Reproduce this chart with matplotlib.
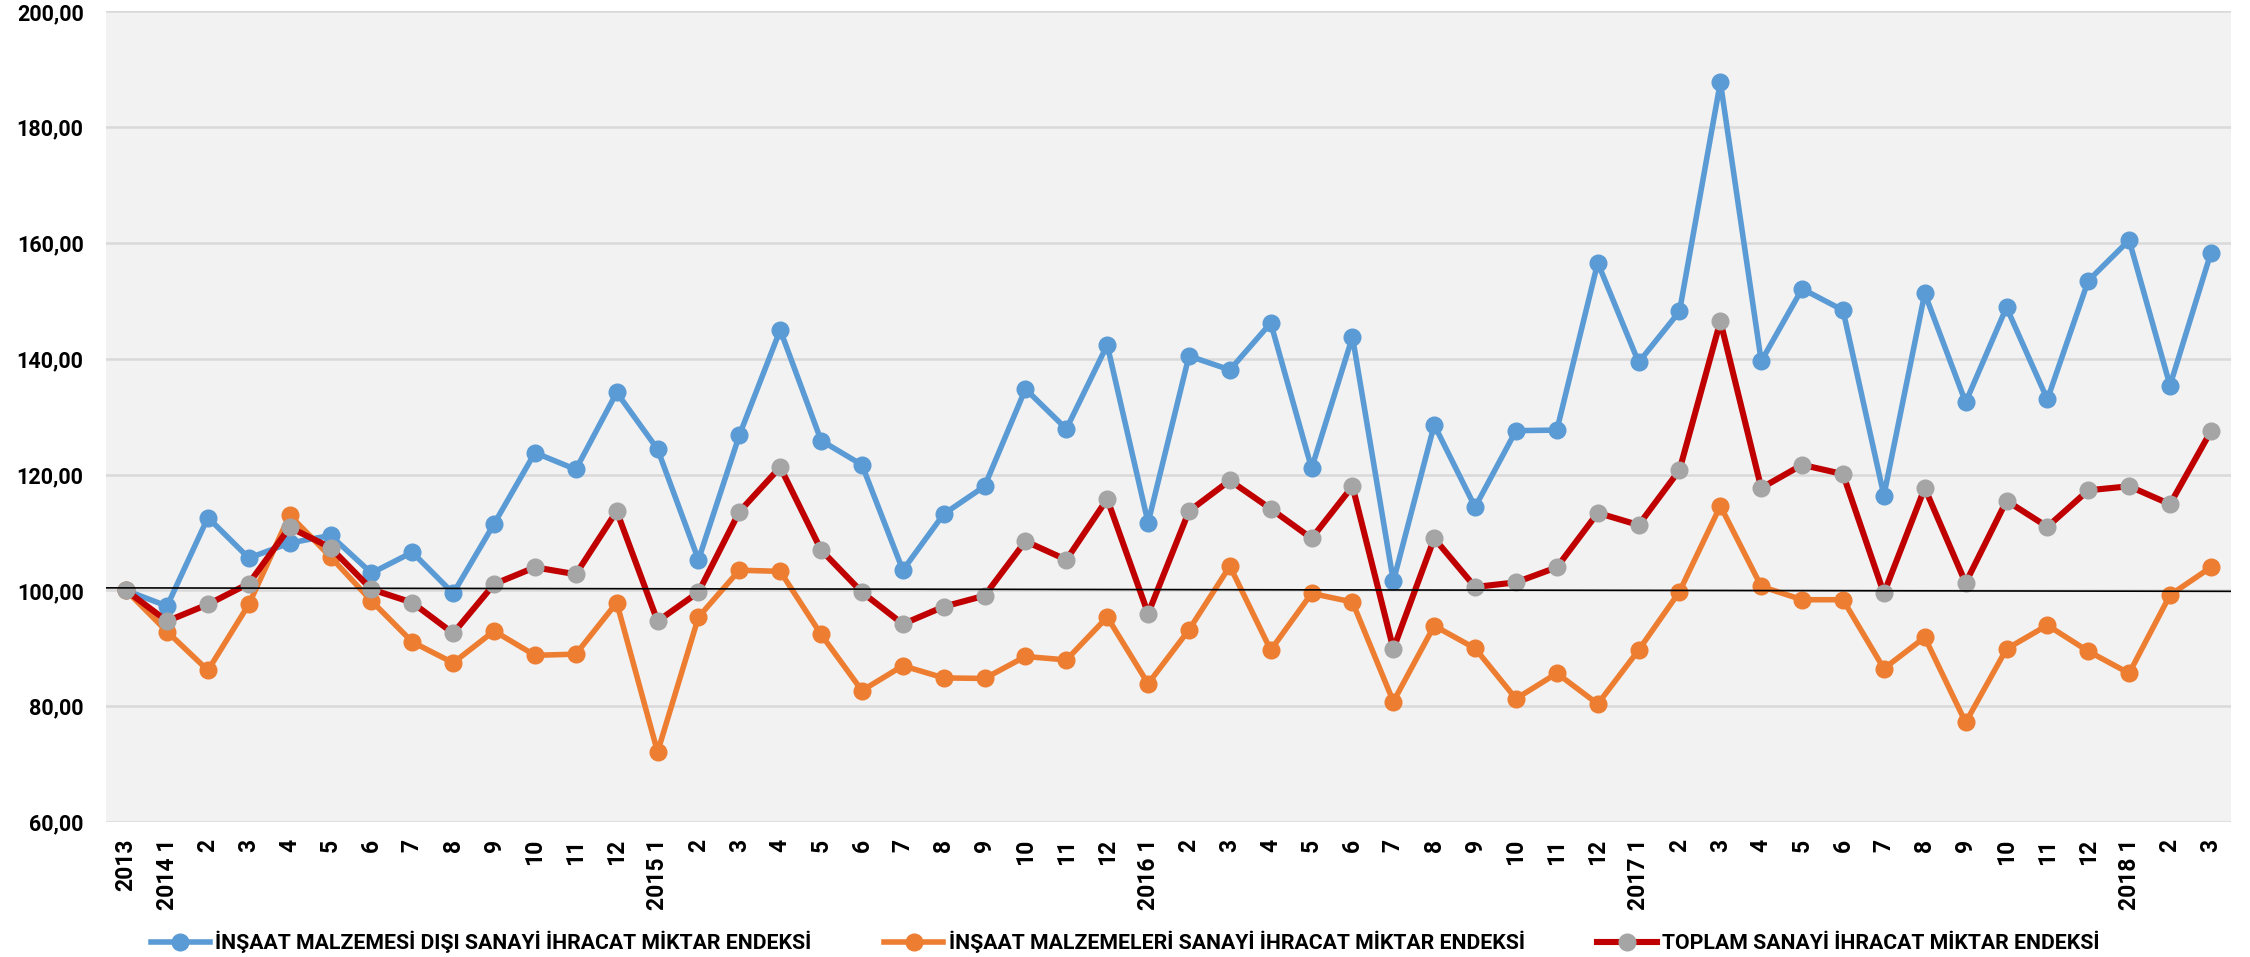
import matplotlib
matplotlib.use("Agg")
import matplotlib.pyplot as plt
from matplotlib.ticker import FuncFormatter, MultipleLocator

plt.rcParams['font.family'] = ['Roboto', 'DejaVu Sans']
plt.rcParams['font.weight'] = 'bold'

x_labels = ["2013",
            "2014 1", "2", "3", "4", "5", "6", "7", "8", "9", "10", "11", "12",
            "2015 1", "2", "3", "4", "5", "6", "7", "8", "9", "10", "11", "12",
            "2016 1", "2", "3", "4", "5", "6", "7", "8", "9", "10", "11", "12",
            "2017 1", "2", "3", "4", "5", "6", "7", "8", "9", "10", "11", "12",
            "2018 1", "2", "3"]

dis_sanayi = [100.0,
              97.3, 112.6, 105.6, 108.2, 109.5, 103.0, 106.6, 99.5, 111.5, 123.8, 120.9, 134.2,
              124.4, 105.3, 126.8, 145.0, 125.9, 121.7, 103.5, 113.2, 118.0, 134.8, 127.9, 142.4,
              111.7, 140.5, 138.1, 146.2, 121.1, 143.8, 101.6, 128.6, 114.4, 127.6, 127.7, 156.6,
              139.4, 148.2, 187.8, 139.6, 152.1, 148.4, 116.4, 151.3, 132.5, 148.9, 133.0, 153.5,
              160.5, 135.4, 158.3]

malzeme = [100.0,
           92.9, 86.2, 97.6, 113.0, 105.8, 98.2, 91.1, 87.5, 93.0, 88.8, 89.0, 97.9,
           72.1, 95.4, 103.5, 103.3, 92.4, 82.7, 87.0, 84.9, 84.8, 88.6, 88.0, 95.4,
           83.9, 93.2, 104.2, 89.7, 99.5, 98.0, 80.8, 93.9, 90.0, 81.3, 85.7, 80.4,
           89.7, 99.8, 114.6, 100.7, 98.4, 98.4, 86.5, 91.9, 77.2, 89.9, 94.0, 89.5,
           85.7, 99.2, 104.0]

toplam = [100.0,
          94.7, 97.6, 101.2, 110.9, 107.4, 100.2, 97.9, 92.6, 101.1, 104.0, 102.8, 113.7,
          94.7, 99.7, 113.6, 121.3, 107.0, 99.7, 94.2, 97.2, 99.1, 108.5, 105.3, 115.8,
          96.0, 113.7, 119.0, 114.1, 109.0, 118.0, 89.9, 109.0, 100.6, 101.4, 104.0, 113.4,
          111.3, 120.8, 146.5, 117.7, 121.7, 120.1, 99.5, 117.7, 101.3, 115.5, 111.0, 117.3,
          118.0, 114.9, 127.5]

series_names = ["İNŞAAT MALZEMESİ DIŞI SANAYİ İHRACAT MİKTAR ENDEKSİ",
                "İNŞAAT MALZEMELERİ SANAYİ İHRACAT MİKTAR ENDEKSİ",
                "TOPLAM SANAYİ İHRACAT MİKTAR ENDEKSİ"]

ref_line_start = 100.45
ref_line_end = 99.85

fig = plt.figure(figsize=(22.5, 9.57), dpi=100)
ax = fig.add_axes([0.047, 0.141, 0.9447, 0.847])
ax.set_facecolor('#F2F2F2')

xs = list(range(len(x_labels)))
ax.plot(xs, dis_sanayi, color='#5B9BD5', lw=4.0, marker='o', ms=12,
        mfc='#5B9BD5', mec='#5B9BD5', label=series_names[0], zorder=3)
ax.plot(xs, malzeme, color='#ED7D31', lw=4.0, marker='o', ms=12,
        mfc='#ED7D31', mec='#ED7D31', label=series_names[1], zorder=4)
ax.plot(xs, toplam, color='#C00000', lw=4.4, marker='o', ms=12,
        mfc='#A5A5A5', mec='#A5A5A5', label=series_names[2], zorder=5)

ax.plot([-0.5, len(x_labels) - 0.5], [ref_line_start, ref_line_end],
        color='black', lw=1.2, zorder=6)

ax.set_xlim(-0.5, len(x_labels) - 0.5)
ax.set_ylim(60, 200)
ax.yaxis.set_major_locator(MultipleLocator(20))
ax.yaxis.set_major_formatter(FuncFormatter(lambda v, p: f"{v:.2f}".replace('.', ',')))
ax.grid(axis='y', color='#D9D9D9', lw=1.8, zorder=0)
ax.set_axisbelow(True)
for s in ax.spines.values():
    s.set_visible(False)

ax.set_xticks(xs)
ax.set_xticklabels(x_labels, rotation=90, fontsize=16.5, fontweight='bold')
ax.tick_params(axis='x', length=0, pad=12)
ax.tick_params(axis='y', length=0, pad=16, labelsize=15.5)
for t in ax.get_yticklabels():
    t.set_fontweight('bold')

fig.legend(loc='center', bbox_to_anchor=(0.5, 0.0155), ncol=3, frameon=False,
           prop={'size': 15.3, 'weight': 'bold'}, handlelength=2.8,
           handletextpad=0.25, columnspacing=3.4)

fig.savefig('out.png', dpi=100, facecolor='white')
